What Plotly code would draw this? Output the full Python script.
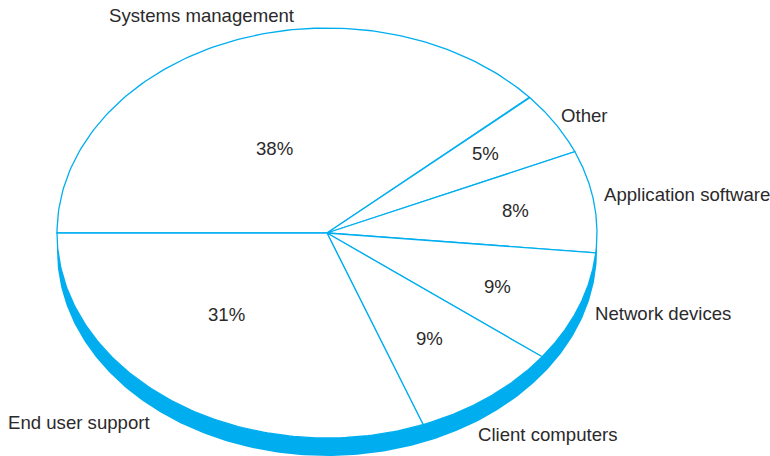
import numpy as np
import plotly.graph_objects as go

W, H = 770, 456

categories = ["Systems management", "Other", "Application software",
              "Network devices", "Client computers", "End user support"]
shares = [38.48, 5.03, 8.03, 8.78, 8.89, 30.79]
pct_labels = ["38%", "5%", "8%", "9%", "9%", "31%"]

# label centres in page pixels
name_pos = [(202, 15), (584, 115), (687, 195), (663, 313), (548, 434), (79, 422)]
pct_pos = [(274, 148), (485, 153), (515, 210), (497, 286), (429, 338), (226, 314)]

LINE = "#00AEEF"
TEXT = "#2b2a2b"
FONT = "Liberation Sans"

# the pie is a unit circle, the axis scales squash it to an ellipse
CX, CY, RX, RY = 327, 233, 270, 205
DEPTH = 18 / RY


def arc(start, end, n=120):
    t = np.radians(np.linspace(start, end, n))
    return np.cos(t), np.sin(t)


fig = go.Figure()

# blue side of the disc
x_low, y_low = arc(180, 360, 240)
fig.add_trace(go.Scatter(
    x=np.concatenate([x_low, x_low[::-1]]),
    y=np.concatenate([y_low - DEPTH, y_low[::-1]]),
    mode="lines", fill="toself", fillcolor=LINE,
    line=dict(color=LINE, width=0), hoverinfo="skip", showlegend=False,
))

# slices run clockwise from the left edge
angle = 180.0
for name, share, pct in zip(categories, shares, pct_labels):
    next_angle = angle - share * 3.6
    xs, ys = arc(angle, next_angle)
    fig.add_trace(go.Scatter(
        x=np.concatenate([[0], xs, [0]]),
        y=np.concatenate([[0], ys, [0]]),
        mode="lines", fill="toself", fillcolor="white",
        line=dict(color=LINE, width=1.3),
        name=name, text=f"{name}: {pct}", hoverinfo="text", showlegend=False,
    ))
    angle = next_angle

for name, pct, (nx, ny), (px, py) in zip(categories, pct_labels, name_pos, pct_pos):
    for txt, ax, ay in ((name, nx, ny), (pct, px, py)):
        fig.add_annotation(
            x=ax / W, y=1 - ay / H, xref="paper", yref="paper",
            text=txt, showarrow=False, xanchor="center", yanchor="middle",
            font=dict(family=FONT, size=18.6, color=TEXT),
        )

fig.update_xaxes(range=[-CX / RX, (W - CX) / RX], visible=False, fixedrange=True)
fig.update_yaxes(range=[(CY - H) / RY, CY / RY], visible=False, fixedrange=True)
fig.update_layout(
    width=W, height=H, margin=dict(l=0, r=0, t=0, b=0),
    paper_bgcolor="white", plot_bgcolor="white", showlegend=False,
)

# drop the page's default body margin so the chart fills the window
fig.write_html("out.html", config=dict(displayModeBar=False),
               post_script="document.body.style.margin='0';document.body.style.overflow='hidden';")
